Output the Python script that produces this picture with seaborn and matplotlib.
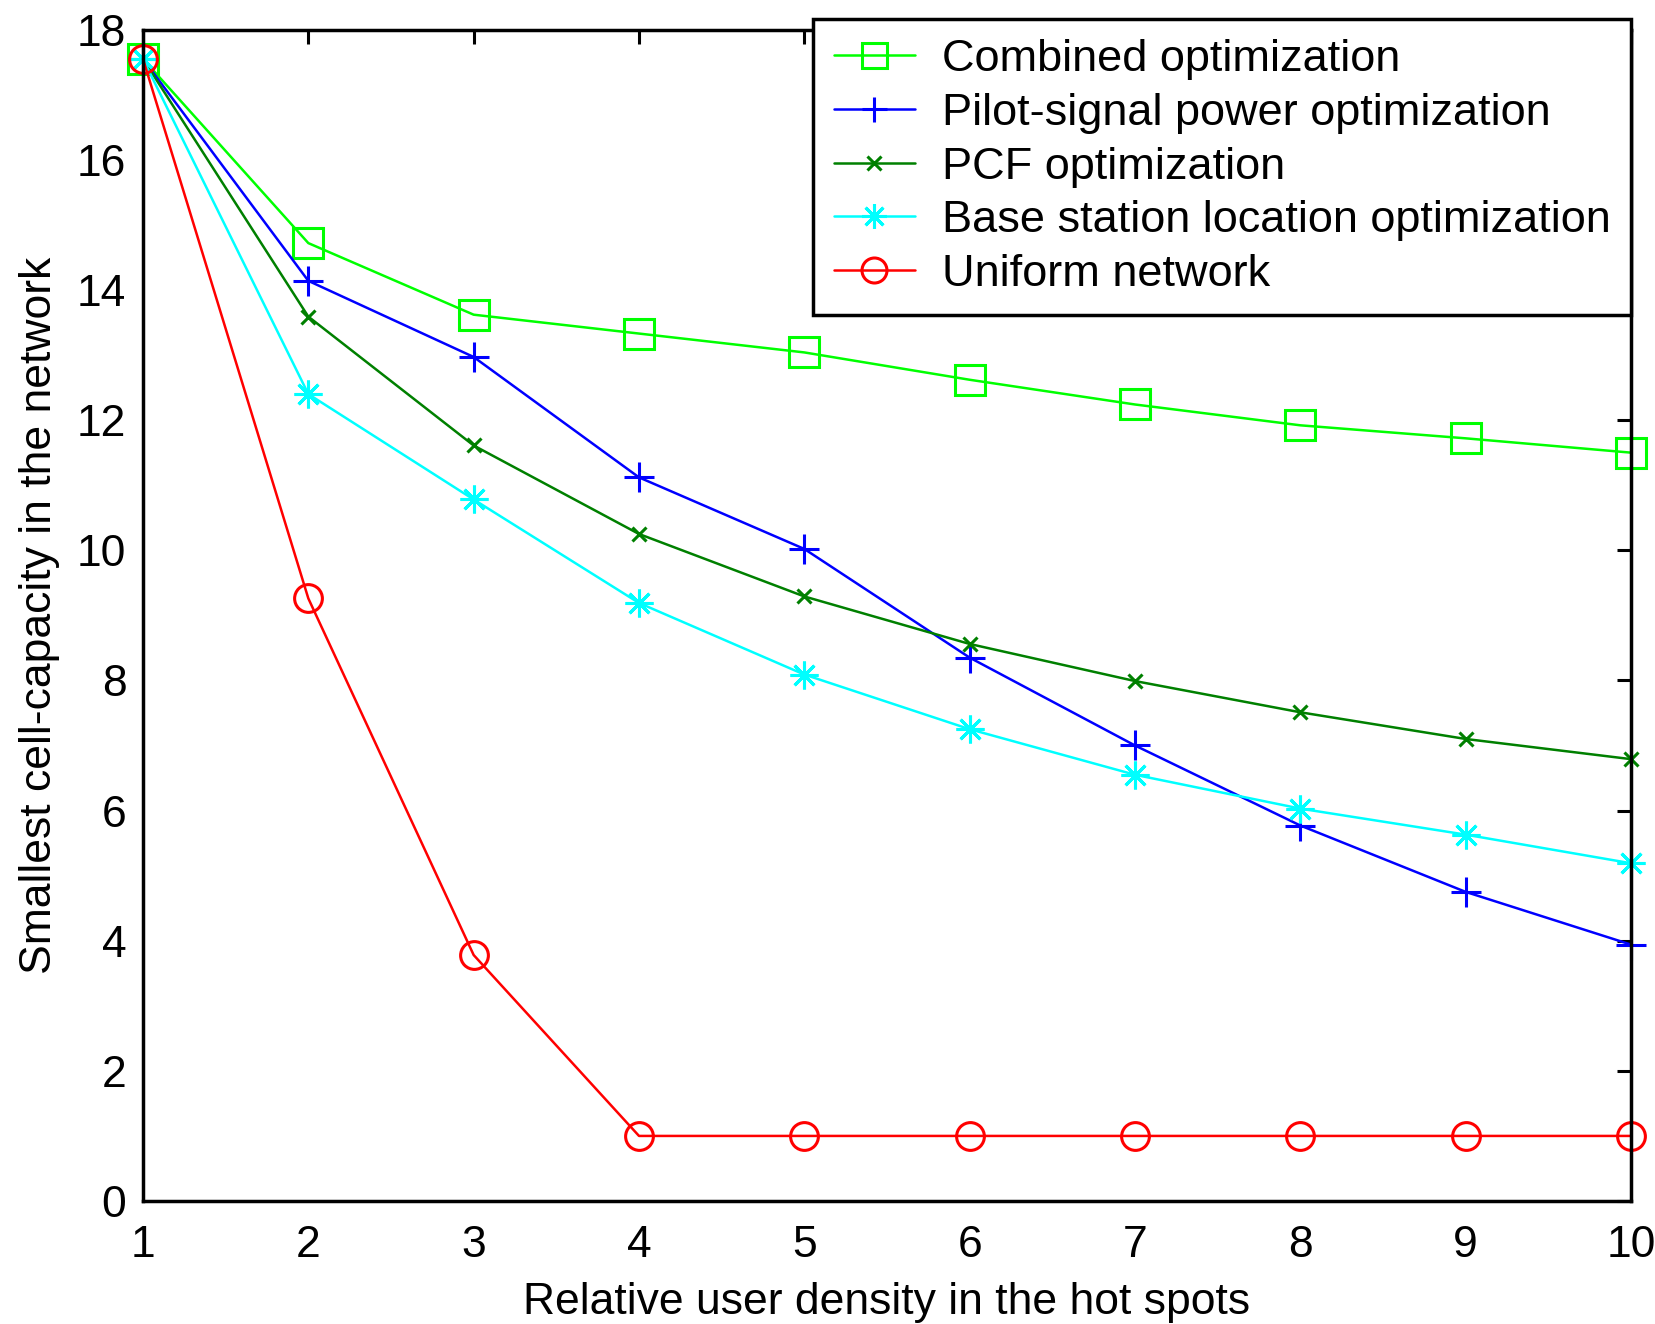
import matplotlib
matplotlib.use("Agg")
import matplotlib.pyplot as plt
import seaborn as sns
import numpy as np

# relative user density in the hot spots
density = [1, 2, 3, 4, 5, 6, 7, 8, 9, 10]

combined = [17.55, 14.72, 13.62, 13.33, 13.04, 12.62, 12.24, 11.92, 11.72, 11.50]
pilot = [17.55, 14.14, 12.97, 11.12, 10.02, 8.35, 7.00, 5.77, 4.75, 3.94]
pcf = [17.55, 13.59, 11.61, 10.25, 9.29, 8.56, 7.99, 7.51, 7.10, 6.79]
base_station = [17.55, 12.40, 10.78, 9.19, 8.09, 7.25, 6.55, 6.03, 5.63, 5.19]
uniform = [17.55, 9.26, 3.78, 1.0, 1.0, 1.0, 1.0, 1.0, 1.0, 1.0]

labels = ['Combined optimization', 'Pilot-signal power optimization',
          'PCF optimization', 'Base station location optimization',
          'Uniform network']

sns.set_style('white')
plt.rcParams['font.family'] = ['Liberation Sans', 'DejaVu Sans']
plt.rcParams['text.color'] = 'black'
plt.rcParams['axes.labelcolor'] = 'black'

fig = plt.figure(figsize=(16.55, 13.24), dpi=100)
ax = fig.add_axes([0.0864, 0.0929, 0.8991, 0.8847])

series = [combined, pilot, pcf, base_station, uniform]
colors = ['#00ff00', '#0000ff', '#008000', '#00ffff', '#ff0000']
markers = ['s', '+', 'x', (8, 2, 0), 'o']
msizes = [21, 22, 10, 20, 20]

for vals, lab, col, mk, ms in zip(series, labels, colors, markers, msizes):
    sns.lineplot(x=density, y=vals, ax=ax, color=col, marker=mk, markersize=ms,
                 markerfacecolor='none', markeredgecolor=col, markeredgewidth=2.2,
                 linewidth=1.8, label=lab, clip_on=False)

ax.set_xlim(1, 10)
ax.set_ylim(0, 18)
ax.set_xticks(density)
ax.set_yticks(np.arange(0, 19, 2))

for s in ax.spines.values():
    s.set_visible(True)
    s.set_color('black')
    s.set_linewidth(2.5)

ax.tick_params(direction='in', length=10, width=2.2, top=True, right=True,
               labelsize=32, colors='black')
ax.tick_params(axis='x', pad=17)
ax.tick_params(axis='y', pad=12)

ax.set_xlabel('Relative user density in the hot spots', fontsize=32, labelpad=12)
ax.set_ylabel('Smallest cell-capacity in the network', fontsize=32, labelpad=12)

leg = ax.legend(loc='upper right', bbox_to_anchor=(0.9855, 0.9857),
                bbox_transform=fig.transFigure, borderaxespad=0,
                fontsize=32.5, frameon=True, fancybox=False, edgecolor='black',
                framealpha=1, handlelength=1.8, handletextpad=0.6,
                labelspacing=0.28, borderpad=0.45)
leg.get_frame().set_linewidth(2.5)
for h in leg.legend_handles:
    h.set_markersize(min(h.get_markersize(), 18))

fig.savefig('out.png', dpi=100)
